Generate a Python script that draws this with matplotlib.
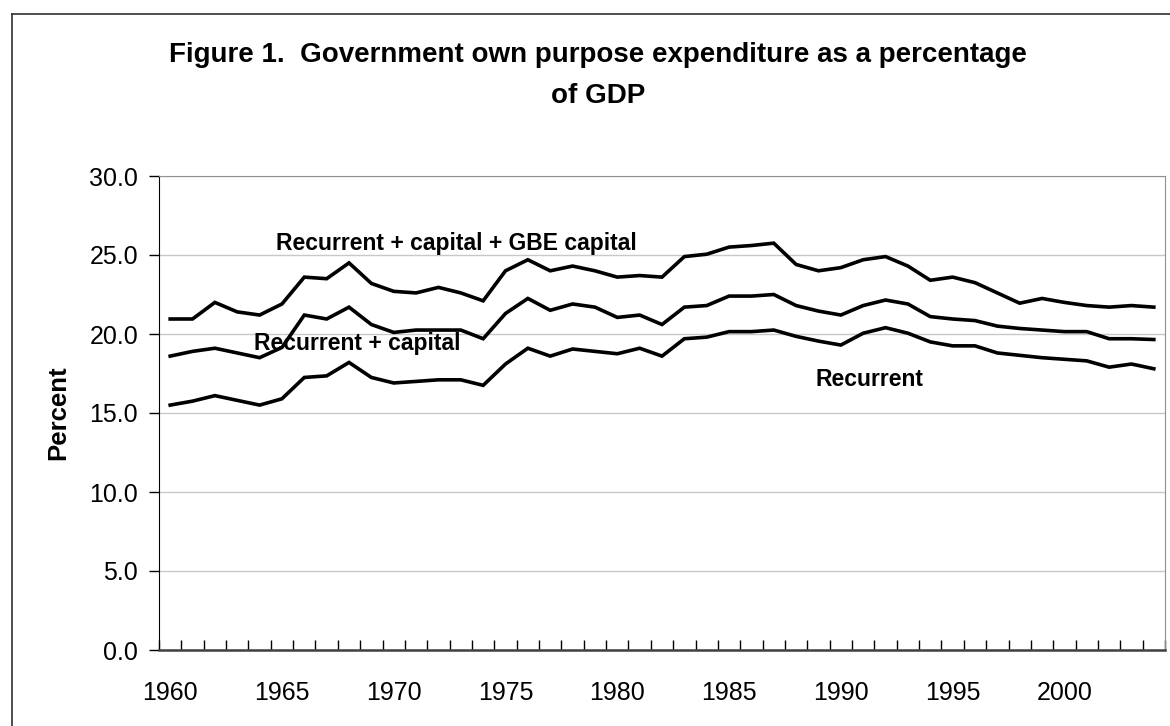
import numpy as np
import matplotlib
matplotlib.use('Agg')
import matplotlib.pyplot as plt
from matplotlib.lines import Line2D

plt.rcParams['font.family'] = ['Liberation Sans', 'DejaVu Sans']

# dane
lata = list(range(1960, 2005))
biezace = [15.5, 15.75, 16.1, 15.8, 15.5, 15.9, 17.25, 17.35, 18.2, 17.25,
           16.9, 17.0, 17.1, 17.1, 16.75, 18.1, 19.1, 18.6, 19.05, 18.9,
           18.75, 19.1, 18.6, 19.7, 19.8, 20.15, 20.15, 20.25, 19.85, 19.55,
           19.3, 20.05, 20.4, 20.05, 19.5, 19.25, 19.25, 18.8, 18.65, 18.5,
           18.4, 18.3, 17.9, 18.1, 17.8]
biezace_kap = [18.6, 18.9, 19.1, 18.8, 18.5, 19.15, 21.2, 20.95, 21.7, 20.6,
               20.1, 20.25, 20.25, 20.25, 19.7, 21.3, 22.25, 21.5, 21.9, 21.7,
               21.05, 21.2, 20.6, 21.7, 21.8, 22.4, 22.4, 22.5, 21.8, 21.45,
               21.2, 21.8, 22.15, 21.9, 21.1, 20.95, 20.85, 20.5, 20.35, 20.25,
               20.15, 20.15, 19.7, 19.7, 19.65]
biezace_kap_gbe = [20.95, 20.95, 22.0, 21.4, 21.2, 21.9, 23.6, 23.5, 24.5, 23.2,
                   22.7, 22.6, 22.95, 22.6, 22.1, 24.0, 24.7, 24.0, 24.3, 24.0,
                   23.6, 23.7, 23.6, 24.9, 25.05, 25.5, 25.6, 25.75, 24.4, 24.0,
                   24.2, 24.7, 24.9, 24.3, 23.4, 23.6, 23.25, 22.6, 21.95, 22.25,
                   22.0, 21.8, 21.7, 21.8, 21.7]
etykiety_x = ['1960', '1965', '1970', '1975', '1980', '1985', '1990', '1995', '2000']
etykiety_y = ['0.0', '5.0', '10.0', '15.0', '20.0', '25.0', '30.0']

fig = plt.figure(figsize=(11.7, 7.26), dpi=100)
ax = fig.add_axes([159/1170, 1 - 650/726, (1165 - 159)/1170, (650 - 176)/726])

for seria in [biezace, biezace_kap, biezace_kap_gbe]:
    ax.plot(lata, seria, color='black', linewidth=2.6, solid_joinstyle='miter')

ax.set_xlim(1959.5, 2004.5)
ax.set_ylim(0, 30)
ax.set_yticks(np.arange(0, 31, 5))
ax.set_yticklabels(etykiety_y)
ax.set_xticks([int(e) for e in etykiety_x])
ax.set_xticklabels(etykiety_x)
ax.set_xticks(np.arange(1959.5, 2005, 1), minor=True)
ax.tick_params(axis='x', which='major', length=0, pad=22, labelsize=18)
ax.tick_params(axis='x', which='minor', direction='in', length=7, width=1, color='black')
ax.tick_params(axis='y', direction='out', length=7, width=1, pad=8, labelsize=18)
ax.grid(axis='y', color='#c8c8c8', linewidth=1)
ax.set_axisbelow(True)

ax.spines['left'].set_color('black')
ax.spines['bottom'].set_color('#404040')
ax.spines['bottom'].set_linewidth(1.8)
ax.spines['top'].set_color('#909090')
ax.spines['right'].set_color('#909090')

ax.set_ylabel('Percent', fontsize=18.5, fontweight='bold', labelpad=14)

ax.text(1964.75, 25.75, 'Recurrent + capital + GBE capital', fontsize=16.5,
        fontweight='bold', va='center', ha='left')
ax.text(1963.75, 19.4, 'Recurrent + capital', fontsize=16.5,
        fontweight='bold', va='center', ha='left')
ax.text(1988.85, 17.15, 'Recurrent', fontsize=16.5,
        fontweight='bold', va='center', ha='left')

fig.text(0.5 * (148 + 1048) / 1170, 1 - 55/726,
         'Figure 1.  Government own purpose expenditure as a percentage',
         fontsize=20, fontweight='bold', ha='center', va='center')
fig.text(0.5 * (148 + 1048) / 1170, 1 - 96/726, 'of GDP',
         fontsize=20, fontweight='bold', ha='center', va='center')

# ramka obszaru wykresu
fig.add_artist(Line2D([12/1170, 12/1170], [0, 1 - 14/726], color='#303030', linewidth=1.2))
fig.add_artist(Line2D([12/1170, 1], [1 - 14/726, 1 - 14/726], color='#303030', linewidth=1.2))

fig.savefig('out.png', dpi=100)
